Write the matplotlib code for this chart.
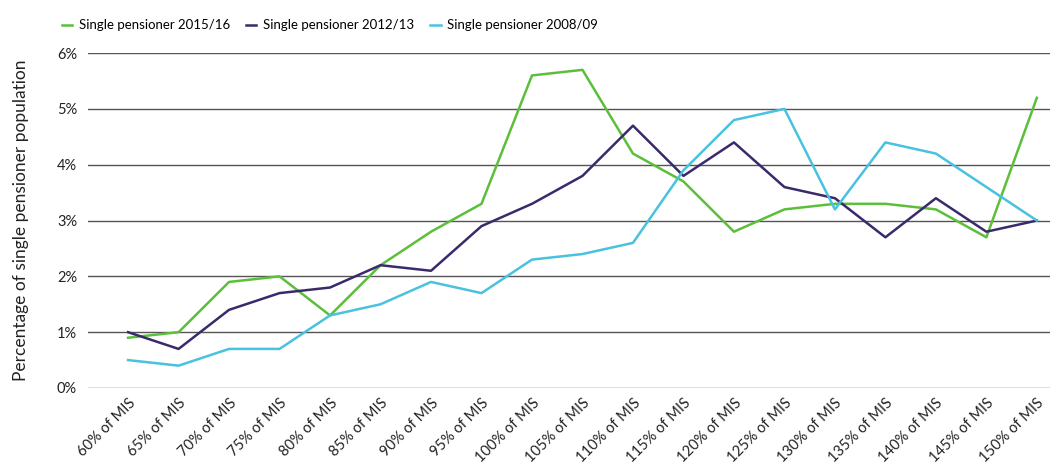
import numpy as np
import matplotlib
matplotlib.use("Agg")
import matplotlib.pyplot as plt

plt.rcParams['font.family'] = ['Lato', 'DejaVu Sans']

categories = ["%d%% of MIS" % p for p in range(60, 155, 5)]
s2015 = [0.9, 1.0, 1.9, 2.0, 1.3, 2.2, 2.8, 3.3, 5.6, 5.7, 4.2, 3.7, 2.8, 3.2, 3.3, 3.3, 3.2, 2.7, 5.2]
s2012 = [1.0, 0.7, 1.4, 1.7, 1.8, 2.2, 2.1, 2.9, 3.3, 3.8, 4.7, 3.8, 4.4, 3.6, 3.4, 2.7, 3.4, 2.8, 3.0]
s2008 = [0.5, 0.4, 0.7, 0.7, 1.3, 1.5, 1.9, 1.7, 2.3, 2.4, 2.6, 3.9, 4.8, 5.0, 3.2, 4.4, 4.2, 3.6, 3.0]
labels = ["Single pensioner 2015/16", "Single pensioner 2012/13", "Single pensioner 2008/09"]
colors = ["#5bbf3a", "#3b2a6b", "#48c2de"]

fig = plt.figure(figsize=(10.5, 4.7), dpi=100)
ax = fig.add_axes([0.084, 0.1745, 0.916, 0.7125])

x = np.arange(len(categories))
for ys, lab, c in zip([s2015, s2012, s2008], labels, colors):
    ax.plot(x, ys, color=c, lw=1.8, label=lab)

ax.set_ylim(0, 6)
ax.set_xlim(-0.79, 18.26)
ax.set_yticks(range(0, 7))
ax.set_yticklabels(["%d%%" % v for v in range(0, 7)])
ax.yaxis.grid(True, color="#555555", lw=1)
ax.set_axisbelow(True)
ax.set_xticks(x)
ax.set_xticklabels(categories, rotation=45, ha="right", rotation_mode="anchor")
for sp in ax.spines.values():
    sp.set_visible(False)
ax.tick_params(axis="both", length=0, labelsize=10.5, colors="#222222")
ax.tick_params(axis="y", pad=8)
ax.tick_params(axis="x", pad=6)
ax.set_ylabel("Percentage of single pensioner population", fontsize=12.5, color="#222222", labelpad=20)

ax.legend(loc="lower left", bbox_to_anchor=(-0.04, 1.03), ncol=3, frameon=False,
          fontsize=9.5, handlelength=0.8, columnspacing=1.2, handletextpad=0.5)

fig.savefig("out.png", dpi=100)
